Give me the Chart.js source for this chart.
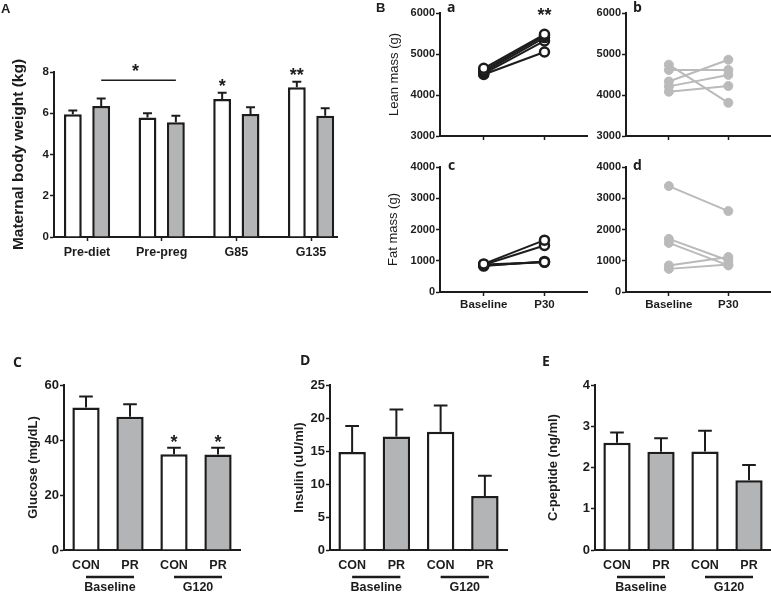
<!DOCTYPE html>
<html>
<head>
<meta charset="utf-8">
<script src="https://cdn.jsdelivr.net/npm/chart.js@4.4.1/dist/chart.umd.min.js"></script>
<style>
  body { margin: 0; background: #fff; width: 771px; height: 595px; position: relative; overflow: hidden; }
  canvas { position: absolute; }
</style>
</head>
<body>
<canvas id="chartA"></canvas>
<canvas id="chartBa"></canvas>
<canvas id="chartBb"></canvas>
<canvas id="chartBc"></canvas>
<canvas id="chartBd"></canvas>
<canvas id="chartC"></canvas>
<canvas id="chartD"></canvas>
<canvas id="chartE"></canvas>
<script>
// ---- data ----
const groupsA = ['Pre-diet', 'Pre-preg', 'G85', 'G135'];
const weightCon = [5.95, 5.8, 6.69, 7.26];
const weightConSem = [0.18, 0.2, 0.31, 0.27];
const weightConStars = ['', '', '*', '**'];
const weightPr = [6.35, 5.56, 5.96, 5.88];
const weightPrSem = [0.37, 0.32, 0.33, 0.36];

const timepoints = ['Baseline', 'P30'];
const leanConBase = [4650, 4600, 4560, 4520, 4500];
const leanConP30 = [5480, 5450, 5400, 5320, 5050];
const leanPrBase = [4740, 4610, 4330, 4210, 4080];
const leanPrP30 = [3810, 4610, 4860, 4490, 4220];
const fatConBase = [900, 870, 850, 880, 830];
const fatConP30 = [1660, 1490, 960, 950, 980];
const fatPrBase = [3390, 1700, 1570, 850, 740];
const fatPrP30 = [2590, 1010, 850, 1120, 880];

const groupsCDE = ['CON', 'PR', 'CON', 'PR'];
const periods = ['Baseline', 'G120'];
const glucose = [51.8, 48.5, 34.8, 34.7];
const glucoseSem = [4.0, 4.5, 2.4, 2.5];
const glucoseStars = ['', '', '*', '*'];
const insulin = [14.85, 17.2, 17.9, 8.2];
const insulinSem = [3.95, 4.1, 4.0, 3.05];
const cpeptide = [2.6, 2.38, 2.39, 1.69];
const cpeptideSem = [0.25, 0.33, 0.5, 0.37];

// ---- styling ----
const INK = '#1c1c1c';
const GREY_FILL = '#b3b4b6';
const GREY_LINE = '#bababa';
const FONT = '"Liberation Sans", Arial, sans-serif';
const LETTER_FONT = '"Open Sans", "Liberation Sans", sans-serif';

Chart.defaults.font.family = FONT;
Chart.defaults.color = INK;
Chart.defaults.animation = false;
Chart.defaults.responsive = false;
Chart.defaults.plugins.legend.display = false;
Chart.defaults.plugins.tooltip.enabled = false;

function setupCanvas(id, left, top, width, height) {
    const canvas = document.getElementById(id);
    canvas.style.left = left + 'px';
    canvas.style.top = top + 'px';
    canvas.style.width = width + 'px';
    canvas.style.height = height + 'px';
    canvas.width = width;
    canvas.height = height;
    return canvas.getContext('2d');
}

function drawStar(ctx, text, x, cy) {
    ctx.font = 'bold 18px ' + FONT;
    ctx.textAlign = 'center';
    ctx.textBaseline = 'alphabetic';
    ctx.fillText(text, x, cy + 10);
}

// panel letters, SEM bars, stars, group underlines
function extrasPlugin(cfg) {
    return {
        id: 'extras',
        afterDatasetsDraw(chart) {
            const ctx = chart.ctx;
            const xs = chart.scales.x;
            const ys = chart.scales.y;
            const area = chart.chartArea;
            ctx.save();
            ctx.strokeStyle = INK;
            ctx.fillStyle = INK;

            chart.data.datasets.forEach((ds, di) => {
                if (!ds.errors) return;
                const meta = chart.getDatasetMeta(di);
                meta.data.forEach((bar, i) => {
                    const v = meta.controller.getParsed(i).y;
                    const top = ys.getPixelForValue(v + ds.errors[i]);
                    const half = bar.width * 0.25;
                    ctx.lineWidth = 2;
                    ctx.beginPath();
                    ctx.moveTo(bar.x, bar.y);
                    ctx.lineTo(bar.x, top);
                    ctx.moveTo(bar.x - half, top);
                    ctx.lineTo(bar.x + half, top);
                    ctx.stroke();
                    if (ds.stars && ds.stars[i]) drawStar(ctx, ds.stars[i], bar.x, top - cfg.starGap);
                });
            });

            if (cfg.bracket) {
                const b = cfg.bracket;
                const meta = chart.getDatasetMeta(b.dataset);
                const x1 = meta.data[b.from].x;
                const x2 = meta.data[b.to].x;
                const y = ys.getPixelForValue(b.value);
                ctx.lineWidth = 1.5;
                ctx.beginPath();
                ctx.moveTo(x1, y);
                ctx.lineTo(x2, y);
                ctx.stroke();
                drawStar(ctx, b.text, (x1 + x2) / 2 - 3, y - 13);
            }

            (cfg.topStars || []).forEach(s => {
                drawStar(ctx, s.text, xs.getPixelForValue(s.x), area.top - 2);
            });

            (cfg.groups || []).forEach(g => {
                const x1 = xs.getPixelForValue(g.from);
                const x2 = xs.getPixelForValue(g.to) + 4;
                const y = area.bottom + 27;
                ctx.lineWidth = 2.5;
                ctx.beginPath();
                ctx.moveTo(x1, y);
                ctx.lineTo(x2, y);
                ctx.stroke();
                ctx.font = 'bold 12.5px ' + FONT;
                ctx.textAlign = 'center';
                ctx.textBaseline = 'middle';
                ctx.fillText(g.text, (x1 + x2) / 2, area.bottom + 38);
            });

            (cfg.letters || []).forEach(l => {
                ctx.font = l.font;
                ctx.textAlign = 'left';
                ctx.textBaseline = 'alphabetic';
                ctx.fillText(l.text, l.x, l.y);
            });
            ctx.restore();
        }
    };
}

function yScale(min, max, step, size, width, title) {
    return {
        min: min,
        max: max,
        ticks: { stepSize: step, padding: 1, font: { size: size, weight: 'bold' }, color: INK, callback: (v) => String(v) },
        grid: { drawOnChartArea: false, drawTicks: true, tickLength: 4, tickWidth: 1.5, color: INK, tickColor: INK },
        border: { color: INK, width: 2 },
        title: title
            ? { display: true, text: title.text, color: INK, font: title.font, padding: { top: title.pad, bottom: 0 } }
            : { display: false },
        afterFit: (s) => { s.width = width; }
    };
}

// ---- Panel A: maternal body weight ----
function renderWeightChart() {
    const ctx = setupCanvas('chartA', 0, 0, 345, 300);
    new Chart(ctx, {
        type: 'bar',
        data: {
            datasets: [
                {
                    data: groupsA.map((g, i) => ({ x: i, y: weightCon[i] })),
                    backgroundColor: '#ffffff',
                    borderColor: INK,
                    borderWidth: 2.5,
                    barPercentage: 0.63,
                    categoryPercentage: 0.76,
                    errors: weightConSem,
                    stars: weightConStars
                },
                {
                    data: groupsA.map((g, i) => ({ x: i, y: weightPr[i] })),
                    backgroundColor: GREY_FILL,
                    borderColor: INK,
                    borderWidth: 2.5,
                    barPercentage: 0.63,
                    categoryPercentage: 0.76,
                    errors: weightPrSem
                }
            ]
        },
        options: {
            layout: { padding: { top: 72, right: 8, left: 0, bottom: 0 }, autoPadding: false },
            scales: {
                x: {
                    type: 'linear',
                    min: -0.442,
                    max: 3.348,
                    offset: false,
                    afterBuildTicks: (s) => { s.ticks = groupsA.map((g, i) => ({ value: i })); },
                    ticks: {
                        autoSkip: false, maxRotation: 0, padding: 4,
                        font: { size: 12.5, weight: 'bold' }, color: INK,
                        callback: (v) => groupsA[v]
                    },
                    grid: { offset: false, drawOnChartArea: false, drawTicks: true, tickLength: 4, tickWidth: 1.5, color: INK },
                    border: { color: INK, width: 2 },
                    afterFit: (s) => { s.height = 63; }
                },
                y: yScale(0, 8, 2, 11.5, 54, { text: 'Maternal body weight (kg)', font: { size: 15.5, weight: 'bold' }, pad: 9 })
            }
        },
        plugins: [extrasPlugin({
            starGap: 11,
            bracket: { dataset: 1, from: 0, to: 1, value: 7.6, text: '*' },
            letters: [{ text: 'A', x: 1, y: 13, font: 'bold 13px ' + FONT }]
        })]
    });
}

// ---- Panel B: paired lean / fat mass ----
function renderPairedChart(id, box, area, base, p30, yCfg, dark, showLabels, extras) {
    const ctx = setupCanvas(id, box[0], box[1], box[2], box[3]);
    const datasets = base.map((b, i) => ({
        data: [{ x: 0, y: b }, { x: 1, y: p30[i] }],
        borderColor: dark ? INK : GREY_LINE,
        borderWidth: 2,
        pointRadius: 4.5,
        pointBorderWidth: dark ? 2.5 : 1,
        pointBorderColor: dark ? INK : GREY_LINE,
        pointBackgroundColor: dark ? '#ffffff' : GREY_LINE,
        tension: 0
    }));
    new Chart(ctx, {
        type: 'line',
        data: { datasets: datasets },
        options: {
            layout: { padding: { top: area.top, right: area.right, left: 0, bottom: 0 }, autoPadding: false },
            scales: {
                x: {
                    type: 'linear',
                    min: -0.72,
                    max: 1.7,
                    afterBuildTicks: (s) => { s.ticks = timepoints.map((t, i) => ({ value: i })); },
                    ticks: {
                        autoSkip: false, maxRotation: 0, padding: 2,
                        font: { size: 11.5, weight: 'bold' }, color: INK,
                        callback: (v) => showLabels ? timepoints[v] : ''
                    },
                    grid: { drawOnChartArea: false, drawTicks: true, tickLength: 4, tickWidth: 1.5, color: INK },
                    border: { color: INK, width: 2 },
                    afterFit: (s) => { s.height = area.xHeight; }
                },
                y: yScale(yCfg.min, yCfg.max, yCfg.step, 11, area.yWidth, yCfg.title)
            }
        },
        plugins: [extrasPlugin(extras)]
    });
}

// ---- Panels C, D, E: CON / PR bars ----
function renderGroupBars(id, box, values, errors, stars, yCfg, letter) {
    const ctx = setupCanvas(id, box[0], box[1], box[2], box[3]);
    new Chart(ctx, {
        type: 'bar',
        data: {
            labels: groupsCDE,
            datasets: [{
                data: values,
                backgroundColor: groupsCDE.map(g => g === 'CON' ? '#ffffff' : GREY_FILL),
                borderColor: INK,
                borderWidth: 2.5,
                barPercentage: 0.62,
                categoryPercentage: 1,
                errors: errors,
                stars: stars
            }]
        },
        options: {
            layout: { padding: { top: 65, right: box[4], left: 0, bottom: 0 }, autoPadding: false },
            scales: {
                x: {
                    ticks: { autoSkip: false, maxRotation: 0, padding: 8, font: { size: 12.5, weight: 'bold' }, color: INK },
                    grid: { display: false, drawTicks: false },
                    border: { color: INK, width: 2 },
                    afterFit: (s) => { s.height = 45; }
                },
                y: yScale(yCfg.min, yCfg.max, yCfg.step, 13, yCfg.width, yCfg.title)
            }
        },
        plugins: [extrasPlugin({
            starGap: 10,
            groups: [{ from: 0, to: 1, text: periods[0] }, { from: 2, to: 3, text: periods[1] }],
            letters: [letter]
        })]
    });
}

renderWeightChart();

const letterFont = 'bold 14px ' + LETTER_FONT;
const leanTitle = { text: 'Lean mass (g)', font: { size: 13, weight: 'normal' }, pad: 27 };
const fatTitle = { text: 'Fat mass (g)', font: { size: 13, weight: 'normal' }, pad: 26 };

renderPairedChart('chartBa', [360, 0, 232, 150], { top: 13, right: 5, xHeight: 14, yWidth: 80 },
    leanConBase, leanConP30, { min: 3000, max: 6000, step: 1000, title: leanTitle }, true, false,
    { letters: [{ text: 'B', x: 16, y: 12, font: 'bold 13px ' + FONT }, { text: 'a', x: 87, y: 12, font: letterFont }],
      topStars: [{ x: 1, text: '**' }] });
renderPairedChart('chartBb', [592, 0, 179, 150], { top: 13, right: 1, xHeight: 14, yWidth: 34 },
    leanPrBase, leanPrP30, { min: 3000, max: 6000, step: 1000 }, false, false,
    { letters: [{ text: 'b', x: 41, y: 12, font: letterFont }] });
renderPairedChart('chartBc', [360, 150, 232, 165], { top: 17, right: 5, xHeight: 23, yWidth: 80 },
    fatConBase, fatConP30, { min: 0, max: 4000, step: 1000, title: fatTitle }, true, true,
    { letters: [{ text: 'c', x: 88, y: 20, font: letterFont }] });
renderPairedChart('chartBd', [592, 150, 179, 165], { top: 17, right: 1, xHeight: 23, yWidth: 34 },
    fatPrBase, fatPrP30, { min: 0, max: 4000, step: 1000 }, false, true,
    { letters: [{ text: 'd', x: 41, y: 20, font: letterFont }] });

const cdeTitleFont = { size: 13, weight: 'bold' };
renderGroupBars('chartC', [0, 320, 250, 275, 10], glucose, glucoseSem, glucoseStars,
    { min: 0, max: 60, step: 20, width: 64, title: { text: 'Glucose (mg/dL)', font: cdeTitleFont, pad: 26 } },
    { text: 'C', x: 13, y: 47, font: letterFont });
renderGroupBars('chartD', [255, 320, 260, 275, 8], insulin, insulinSem, null,
    { min: 0, max: 25, step: 5, width: 75, title: { text: 'Insulin (uU/ml)', font: cdeTitleFont, pad: 37 } },
    { text: 'D', x: 45, y: 45, font: letterFont });
renderGroupBars('chartE', [520, 320, 251, 275, 0], cpeptide, cpeptideSem, null,
    { min: 0, max: 4, step: 1, width: 75, title: { text: 'C-peptide (ng/ml)', font: cdeTitleFont, pad: 26 } },
    { text: 'E', x: 22, y: 46, font: letterFont });
</script>
</body>
</html>
